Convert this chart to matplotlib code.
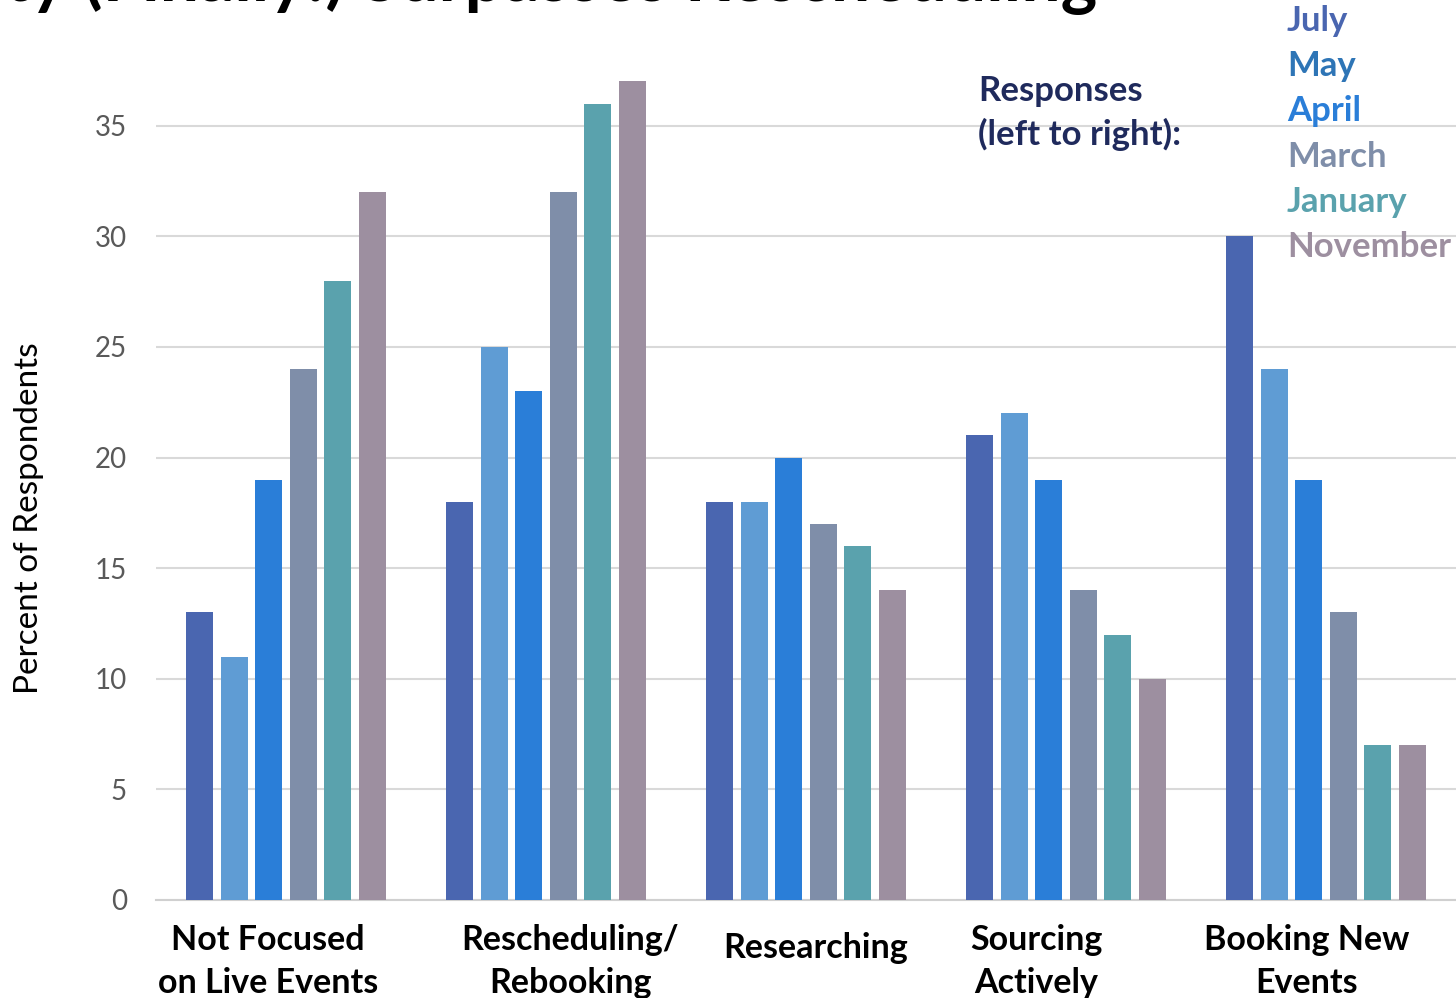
import matplotlib
matplotlib.use("Agg")
import matplotlib.pyplot as plt
import matplotlib.transforms as mtransforms
import numpy as np

categories = ["Not Focused\non Live Events", "Rescheduling/\nRebooking", "Researching",
              "Sourcing\nActively", "Booking New\nEvents"]
months = ["July", "May", "April", "March", "January", "November"]
july = [13, 18, 18, 21, 30]
may = [11, 25, 18, 22, 24]
april = [19, 23, 20, 19, 19]
march = [24, 32, 17, 14, 13]
january = [28, 36, 16, 12, 7]
november = [32, 37, 14, 10, 7]
series = [july, may, april, march, january, november]
bar_colors = ["#4A66B0", "#5F9CD4", "#2A7ED8", "#7F8EA9", "#5AA2AD", "#9D8FA0"]
text_colors = ["#4A66B0", "#2E75B6", "#2A7ED8", "#7F8EA9", "#5AA2AD", "#9D8FA0"]
yticks = [0, 5, 10, 15, 20, 25, 30, 35]

plt.rcParams['font.family'] = ['Lato', 'DejaVu Sans']

fig = plt.figure(figsize=(14.56, 9.98), dpi=100)
ax = fig.add_axes([156/1456, (998-900)/998, 1 - 156/1456, (900-15)/998])

x = np.arange(len(categories))
step = 0.133
width = 0.104
for i, (vals, c) in enumerate(zip(series, bar_colors)):
    ax.bar(x + (i - 2.5) * step, vals, width=width, color=c, zorder=3)

ax.set_xlim(-0.5, 4.5)
ax.set_ylim(0, 40)
ax.set_yticks(yticks)
ax.set_yticklabels([str(t) for t in yticks], fontsize=20, color="#595959")
ax.yaxis.grid(True, color="#D9D9D9", lw=1.5, zorder=0)
ax.set_axisbelow(True)
ax.tick_params(axis='y', length=0, pad=21)
ax.tick_params(axis='x', length=0, pad=17)
ax.set_xticks(x)
ax.set_xticklabels(categories, fontsize=24.5, fontweight='bold', color="black", linespacing=1.45)
# per-label placement offsets (pixels) to mimic the hand-placed text boxes
label_shift = [(-18, 0), (24, 0), (10, -8), (-30, 0), (-19, 0)]
for lab, (dx, dy) in zip(ax.get_xticklabels(), label_shift):
    lab.set_transform(lab.get_transform() +
                      mtransforms.ScaledTranslation(dx/100, dy/100, fig.dpi_scale_trans))
for s in ["top", "right", "left"]:
    ax.spines[s].set_visible(False)
ax.spines["bottom"].set_color("#D0D0D0")
ax.spines["bottom"].set_linewidth(1.5)
ax.set_ylabel("Percent of Respondents", fontsize=24, color="black")
ax.yaxis.set_label_coords((44 - 156) / 1300, (900 - 518) / 885)

# title (cropped at top of the image, as in the reference)
fig.text(1097/1456, 1 - 1/998, "Booking New Events Activity (Finally!) Surpasses Rescheduling",
         ha='right', va='baseline', fontsize=50, fontweight='bold', color='black')

# legend text
fig.text(978/1456, 1 - 113/998, "Responses\n(left to right):", ha='left', va='center',
         fontsize=25, fontweight='bold', color="#1F2A5C", linespacing=1.42)
for i, (m, c) in enumerate(zip(months, text_colors)):
    fig.text(1287/1456, 1 - (21 + 45.2 * i)/998, m, ha='left', va='center',
             fontsize=25, fontweight='bold', color=c)

fig.savefig("out.png", dpi=100)
